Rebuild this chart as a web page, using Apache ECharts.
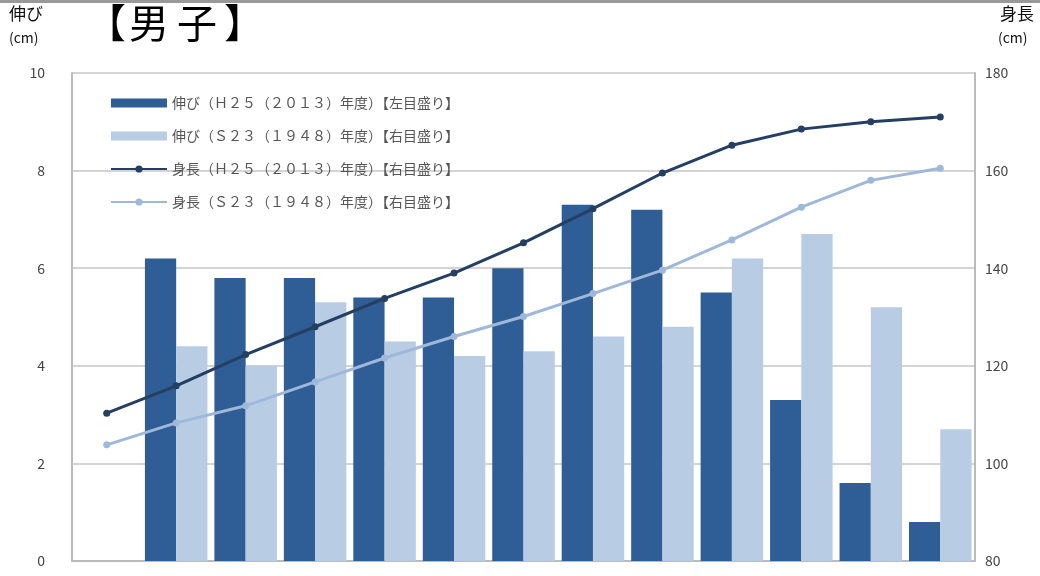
<!DOCTYPE html>
<html><head><meta charset="utf-8">
<script src="https://cdn.jsdelivr.net/npm/echarts@6/dist/echarts.min.js"></script>
<style>html,body{margin:0;padding:0;background:#fff}#c{width:1040px;height:576px}</style>
</head><body><div id="c"></div>
<script>
const categories = ['5歳','6歳','7歳','8歳','9歳','10歳','11歳','12歳','13歳','14歳','15歳','16歳','17歳'];
const growth2013 = [null, 6.2, 5.8, 5.8, 5.4, 5.4, 6.0, 7.3, 7.2, 5.5, 3.3, 1.6, 0.8];
const growth1948 = [null, 4.4, 4.0, 5.3, 4.5, 4.2, 4.3, 4.6, 4.8, 6.2, 6.7, 5.2, 2.7];
const height2013 = [110.3, 115.9, 122.3, 128.0, 133.8, 139.0, 145.2, 152.2, 159.5, 165.2, 168.5, 170.0, 171.0];
const height1948 = [103.8, 108.3, 111.8, 116.7, 121.6, 126.0, 130.1, 134.8, 139.6, 145.8, 152.5, 158.0, 160.5];
const seriesNames = ['伸び（Ｈ２５（２０１３）年度）【左目盛り】','伸び（Ｓ２３（１９４８）年度）【右目盛り】','身長（Ｈ２５（２０１３）年度）【右目盛り】','身長（Ｓ２３（１９４８）年度）【右目盛り】'];
const leftTicks = {min:0, max:10, interval:2};
const rightTicks = {min:80, max:180, interval:20};

const font = '"Noto Sans CJK JP", "Noto Sans", sans-serif';
const chart = echarts.init(document.getElementById('c'));
chart.setOption({
  animation:false,
  textStyle:{fontFamily:font},
  grid:{left:72,right:65,top:73,bottom:15},
  graphic:[
    {type:'rect',shape:{x:0,y:0,width:1040,height:3},style:{fill:'#999'}},
    {type:'text',left:9,top:5,style:{text:'伸び',font:'17px '+font,fill:'#111'}},
    {type:'text',left:9,top:31,style:{text:'(cm)',font:'14px '+font,fill:'#111'}},
    {type:'text',left:1000,top:5,style:{text:'身長',font:'17px '+font,fill:'#111'}},
    {type:'text',left:998,top:31,style:{text:'(cm)',font:'14px '+font,fill:'#111'}},
    {type:'text',left:86,top:3,style:{text:'【',font:'40px '+font,fill:'#000'}},
    {type:'text',left:129,top:3,style:{text:'男',font:'40px '+font,fill:'#000'}},
    {type:'text',left:177,top:3,style:{text:'子',font:'40px '+font,fill:'#000'}},
    {type:'text',left:224,top:3,style:{text:'】',font:'40px '+font,fill:'#000'}}
  ],
  legend:{
    orient:'vertical',left:105,top:91,itemGap:19,itemWidth:56,itemHeight:9,
    textStyle:{fontSize:14,color:'#555',fontFamily:font},
    data:[
      {name:seriesNames[0],icon:'rect'},
      {name:seriesNames[1],icon:'rect'},
      {name:seriesNames[2]},
      {name:seriesNames[3]}
    ]
  },
  xAxis:{type:'category',data:categories,boundaryGap:true,
    axisLine:{lineStyle:{color:'#bbb',width:2}},axisTick:{show:false},axisLabel:{show:false}},
  yAxis:[
    {type:'value',min:leftTicks.min,max:leftTicks.max,interval:leftTicks.interval,
     axisLine:{show:true,lineStyle:{color:'#bbb',width:2}},axisTick:{show:false},
     axisLabel:{color:'#444',fontSize:14,margin:27},
     splitLine:{lineStyle:{color:'#d4d4d4',width:2}}},
    {type:'value',min:rightTicks.min,max:rightTicks.max,interval:rightTicks.interval,position:'right',
     axisLine:{show:true,lineStyle:{color:'#bbb',width:2}},axisTick:{show:false},
     axisLabel:{color:'#444',fontSize:14,margin:10},splitLine:{show:false}}
  ],
  series:[
    {name:seriesNames[0],type:'bar',yAxisIndex:0,data:growth2013,barGap:'0%',barCategoryGap:'10%',
     itemStyle:{color:'#2f5d96'}},
    {name:seriesNames[1],type:'bar',yAxisIndex:0,data:growth1948,
     itemStyle:{color:'#b8cce4'}},
    {name:seriesNames[2],type:'line',yAxisIndex:1,data:height2013,symbol:'circle',symbolSize:7,
     lineStyle:{color:'#253f62',width:3},itemStyle:{color:'#253f62'}},
    {name:seriesNames[3],type:'line',yAxisIndex:1,data:height1948,symbol:'circle',symbolSize:7,
     lineStyle:{color:'#9fb8da',width:3},itemStyle:{color:'#9fb8da'}}
  ]
});
</script></body></html>
